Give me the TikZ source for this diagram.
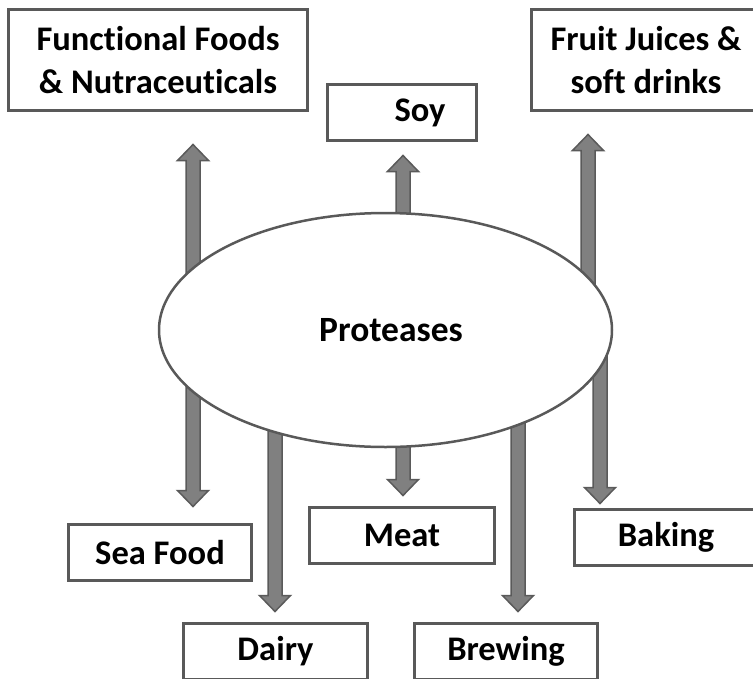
\documentclass[tikz,border=0pt]{standalone}
\usepackage{fontspec}
\setmainfont{Carlito}[Ligatures=NoCommon]
\usetikzlibrary{calc,shapes.geometric,backgrounds}
\definecolor{arrowfill}{HTML}{808080}
\definecolor{arrowline}{HTML}{5A5A5A}
\definecolor{boxline}{HTML}{595959}

% vertical block arrow from #1 (base) to #2 (tip)
\newcommand\blockarrow[2]{%
  \path[blockarrowstyle] let \p1=(#1), \p2=(#2), \n1={sign(\y2-\y1)} in
    (\x1-7pt,\y1) -- (\x1-7pt,\y2-\n1*16pt) -- (\x1-15.5pt,\y2-\n1*16pt)
    -- (\x1,\y2) -- (\x1+15.5pt,\y2-\n1*16pt) -- (\x1+7pt,\y2-\n1*16pt)
    -- (\x1+7pt,\y1) -- cycle;}

\begin{document}
\begin{tikzpicture}[x=1pt,y=-1pt,
  labelfont/.style={font=\fontsize{34.5}{43}\selectfont\bfseries},
  box/.style={draw=boxline, line width=3pt, fill=white, inner sep=0pt,
    labelfont, align=center},
  hub/.style={ellipse, draw=boxline, line width=2.5pt, fill=white, inner sep=0pt,
    minimum width=453pt, minimum height=234pt, font=\fontsize{35.5}{42}\selectfont\bfseries},
  blockarrowstyle/.style={fill=arrowfill, draw=arrowline, line width=1.5pt, line join=miter}]

\useasboundingbox (0,0) rectangle (753,678);
\clip (0,0) rectangle (753,678);

% central enzyme
\node[hub] (ell) at (385.5,330) {\hspace*{11pt}Proteases};

% application areas
\node[box, minimum width=299pt, minimum height=101pt] (ff) at (158,60)
  {Functional Foods\\\& Nutraceuticals};
\node[box, minimum width=229pt, minimum height=101pt] (fj) at (646,60)
  {Fruit Juices \&\\soft drinks};
\node[box, minimum width=149pt, minimum height=56pt] (soy) at (402,112.5) {};
\node[labelfont] (soytext) at (420,112.5) {Soy};
\node[box, minimum width=183pt, minimum height=56pt] (sea) at (160,552.5) {Sea Food};
\node[box, minimum width=185pt, minimum height=56pt] (meat) at (402,535.5) {Meat};
\node[box, minimum width=183pt, minimum height=56pt] (baking) at (666,537.5) {Baking};
\node[box, minimum width=184pt, minimum height=56pt] (dairy) at (275.5,651.5) {Dairy};
\node[box, minimum width=183pt, minimum height=56pt] (brewing) at (506,651.5) {Brewing};

% arrow tips
\coordinate (tipff) at ([xshift=35pt,yshift=-32.5pt]ff.south);
\coordinate (tipsea) at ([xshift=33pt,yshift=16.5pt]sea.north);
\coordinate (tipsoy) at ([xshift=1pt,yshift=-13.5pt]soy.south);
\coordinate (tipfj) at ([xshift=-58pt,yshift=-22.5pt]fj.south);
\coordinate (tipbaking) at ([xshift=-66pt,yshift=4.5pt]baking.north);
\coordinate (tipmeat) at ([xshift=1pt,yshift=10.5pt]meat.north);
\coordinate (tipdairy) at ([xshift=-0.5pt,yshift=10.5pt]dairy.north);
\coordinate (tipbrewing) at ([xshift=12pt,yshift=10.5pt]brewing.north);

% arrows start inside the ellipse and run behind it
\begin{scope}[on background layer]
  \blockarrow{ell.center -| tipff}{tipff}
  \blockarrow{ell.center -| tipsea}{tipsea}
  \blockarrow{ell.center -| tipsoy}{tipsoy}
  \blockarrow{ell.center -| tipfj}{tipfj}
  \blockarrow{ell.center -| tipbaking}{tipbaking}
  \blockarrow{ell.center -| tipmeat}{tipmeat}
  \blockarrow{ell.center -| tipdairy}{tipdairy}
  \blockarrow{ell.center -| tipbrewing}{tipbrewing}
\end{scope}
\end{tikzpicture}
\end{document}
